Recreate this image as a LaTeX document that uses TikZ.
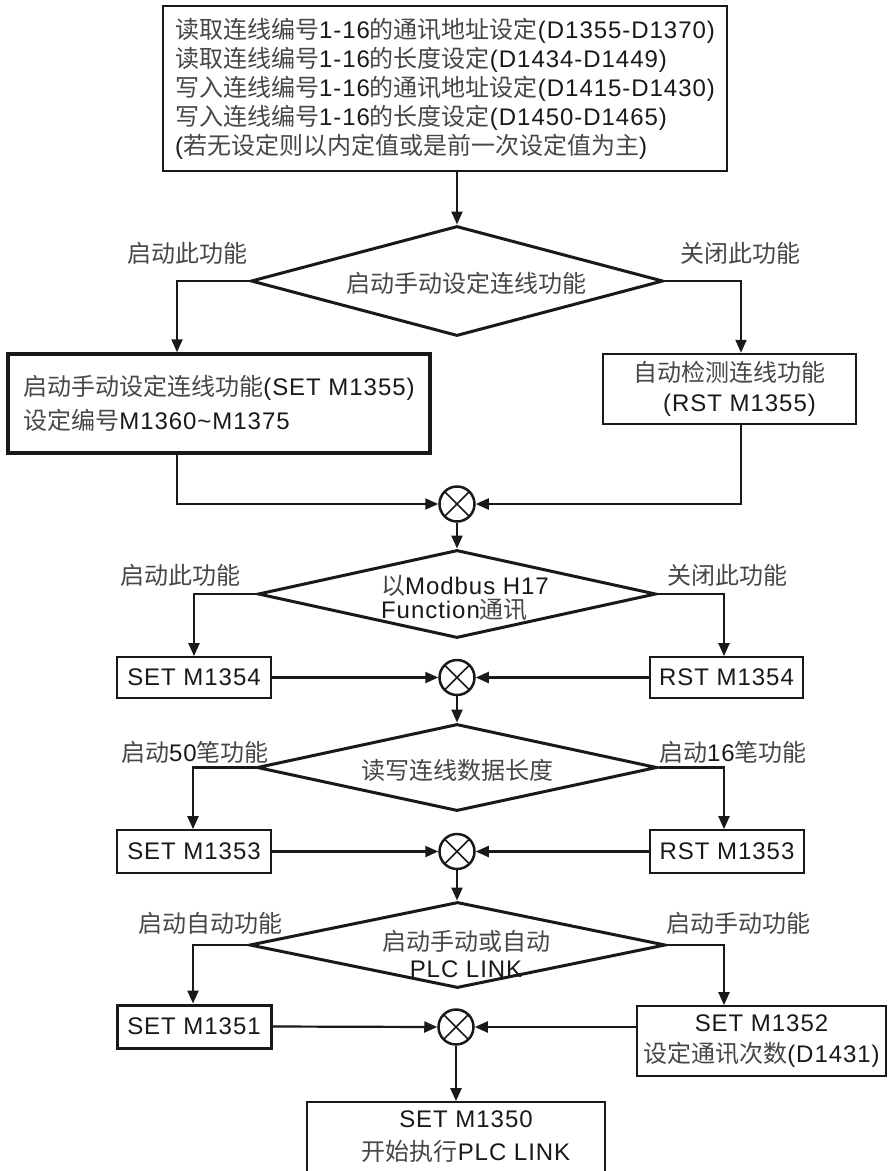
\documentclass[tikz,border=0pt]{standalone}
\usepackage{fontspec}
\setmainfont{Liberation Sans}[LetterSpace=4]
\newfontfamily\cjk{Noto Sans CJK SC}
\usetikzlibrary{shapes.geometric,arrows.meta,calc}
\definecolor{cjkgray}{gray}{0.28}
\definecolor{ink}{gray}{0.1}
\newcommand\zh[1]{{\cjk\color{cjkgray}#1}}
\begin{document}
\begin{tikzpicture}[x=1pt,y=-1pt,
  every node/.style={font=\fontsize{24}{29}\selectfont, text=ink},
  txt/.style={inner sep=0pt},
  box/.style={draw=ink, rectangle, inner sep=0pt, line width=1.8pt},
  dia/.style={draw=ink, diamond, inner sep=0pt, line width=3pt},
  mrg/.style={draw=ink, circle, minimum size=35pt, inner sep=0pt, line width=2.5pt,
    path picture={\draw[line width=1.6pt,ink] (path picture bounding box.north west) -- (path picture bounding box.south east)
      (path picture bounding box.north east) -- (path picture bounding box.south west);}},
  conn/.style={draw=ink, line width=2.2pt, -{Triangle[length=13pt,width=11pt]}}
]
\useasboundingbox (0,0) rectangle (889,1171);
\fill[white] (0,0) rectangle (889,1171);
\begin{scope}
\clip (0,0) rectangle (889,1171);

% top box
\node[box, line width=2pt, minimum width=564pt, minimum height=165pt, align=left] (top) at (445,88.5)
 {\zh{读取连线编号}1-16\zh{的通讯地址设定}(D1355-D1370)\\
  \zh{读取连线编号}1-16\zh{的长度设定}(D1434-D1449)\\
  \zh{写入连线编号}1-16\zh{的通讯地址设定}(D1415-D1430)\\
  \zh{写入连线编号}1-16\zh{的长度设定}(D1450-D1465)\\
  (\zh{若无设定则以内定值或是前一次设定值为主})};

% diamond 1
\node[dia, minimum width=412pt, minimum height=110pt] (d1) at (457,281) {};
\node[txt] (d1t) at (466,283) {\zh{启动手动设定连线功能}};
\node[txt] (l1a) at (187,253) {\zh{启动此功能}};
\node[txt] (l1b) at (740,253) {\zh{关闭此功能}};

\node[box, line width=3.5pt, minimum width=422pt, minimum height=99pt, align=left,
      font=\fontsize{24}{34}\selectfont] (lbox) at (219,403.5)
 {\zh{启动手动设定连线功能}(SET M1355)\\\zh{设定编号}M1360\textasciitilde M1375};
\node[box, line width=2.5pt, minimum width=253pt, minimum height=70pt, align=center,
      font=\fontsize{24}{30}\selectfont] (rbox) at (729.5,389)
 {\zh{自动检测连线功能}\\\hspace*{20pt}(RST M1355)};

\node[mrg] (m1) at (457,504) {};

% diamond 2
\node[dia, minimum width=398pt, minimum height=88pt] (d2) at (457,594) {};
\node[txt, align=left, font=\fontsize{24}{24}\selectfont] (d2t) at (465,598.5) {\zh{以}Modbus H17\\Function\zh{通讯}};
\node[txt] (l2a) at (180,575) {\zh{启动此功能}};
\node[txt] (l2b) at (727,575) {\zh{关闭此功能}};
\node[box, minimum width=154pt, minimum height=41pt] (b2l) at (194,677.5) {SET M1354};
\node[box, minimum width=153pt, minimum height=41pt] (b2r) at (726.5,677.5) {RST M1354};
\node[mrg] (m2) at (457,677.5) {};

% diamond 3
\node[dia, minimum width=400pt, minimum height=87pt] (d3) at (457,767.5) {};
\node[txt] (d3t) at (457,770) {\zh{读写连线数据长度}};
\node[txt] (l3a) at (195,752) {\zh{启动}50\zh{笔功能}};
\node[txt] (l3b) at (733,752) {\zh{启动}16\zh{笔功能}};
\node[box, minimum width=154pt, minimum height=43pt] (b3l) at (194,851.5) {SET M1353};
\node[box, minimum width=154pt, minimum height=43pt] (b3r) at (727,851.5) {RST M1353};
\node[mrg] (m3) at (457,851.5) {};

% diamond 4
\node[dia, minimum width=416pt, minimum height=86pt] (d4) at (457.5,945) {};
\node[txt, align=center, font=\fontsize{24}{27}\selectfont] (d4t) at (466,953.5) {\zh{启动手动或自动}\\PLC LINK};
\node[txt] (l4a) at (210,923) {\zh{启动自动功能}};
\node[txt] (l4b) at (738,923) {\zh{启动手动功能}};
\node[box, line width=3pt, minimum width=154pt, minimum height=43pt] (b4l) at (194,1026.5) {SET M1351};
\node[box, minimum width=249pt, minimum height=70pt, align=center, font=\fontsize{24}{31}\selectfont] (b4r) at (761.5,1041)
 {SET M1352\\\zh{设定通讯次数}(D1431)};
\node[mrg] (m4) at (456,1027) {};

% final box
\node[box, minimum width=298pt, minimum height=78pt] (fin) at (456,1141) {};
\node[txt, align=center, font=\fontsize{24}{33}\selectfont] (fint) at (466,1136.5) {SET M1350\\\zh{开始执行}PLC LINK};

% connectors
\draw[conn] (d1.north |- top.south) -- (d1.north);
\draw[conn] (d1.west) -| ([xshift=-42pt]lbox.north);
\draw[conn] (d1.east) -| ([xshift=11.5pt]rbox.north);
\draw[conn] ([xshift=-42pt]lbox.south) |- (m1.west);
\draw[conn] ([xshift=11.5pt]rbox.south) |- (m1.east);
\draw[conn] (m1.south) -- (d2.north);
\draw[conn] (d2.west) -| (b2l.north);
\draw[conn] (d2.east) -| ([xshift=-2.5pt]b2r.north);
\draw[conn] (b2l.east) -- (m2.west);
\draw[conn] (b2r.west) -- (m2.east);
\draw[conn] (m2.south) -- (d3.north);
\draw[conn] (d3.west) -| ([xshift=-1pt]b3l.north);
\draw[conn] (d3.east) -| ([xshift=-3pt]b3r.north);
\draw[conn] (b3l.east) -- (m3.west);
\draw[conn] (b3r.west) -- (m3.east);
\draw[conn] (m3.south) -- (m3.south |- d4.north);
\draw[conn] (d4.west) -| ([xshift=-1pt]b4l.north);
\draw[conn] (d4.east) -| ([xshift=-37.5pt]b4r.north);
\draw[conn] (b4l.east) -- (m4.west);
\draw[conn] (m4.east -| b4r.west) -- (m4.east);
\draw[conn] (m4.south) -- (fin.north);
\end{scope}
\end{tikzpicture}
\end{document}
